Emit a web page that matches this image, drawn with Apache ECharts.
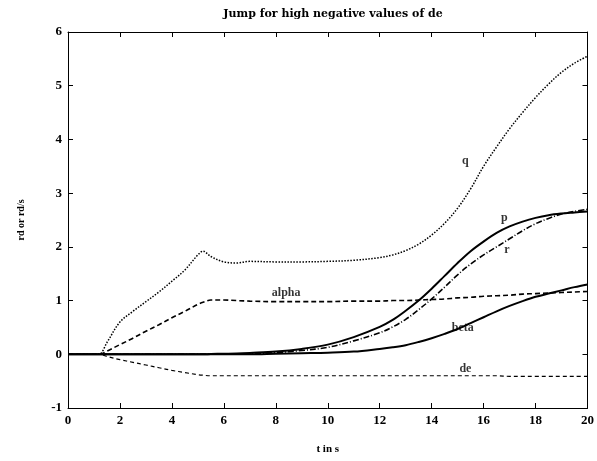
<!DOCTYPE html>
<html>
<head>
<meta charset="utf-8">
<script src="https://cdn.jsdelivr.net/npm/echarts@6/dist/echarts.min.js"></script>
<style>html,body{margin:0;padding:0;background:#fff}#c{width:597px;height:461px}</style>
</head>
<body>
<div id="c"></div>
<script>
const t     = [0, 1, 1.2, 1.5, 2, 2.5, 3, 3.5, 4, 4.5, 5, 5.2, 5.5, 6, 6.5, 7, 8, 9, 10, 11, 12, 12.5, 13, 13.5, 14, 14.5, 15, 15.5, 16, 16.5, 17, 17.5, 18, 18.5, 19, 19.5, 20];
const q     = [0, 0, 0, 0.22, 0.6, 0.8, 0.98, 1.16, 1.36, 1.57, 1.85, 1.92, 1.82, 1.72, 1.7, 1.73, 1.72, 1.72, 1.73, 1.75, 1.8, 1.85, 1.93, 2.05, 2.22, 2.44, 2.72, 3.08, 3.5, 3.86, 4.2, 4.5, 4.78, 5.03, 5.25, 5.42, 5.55];
const alpha = [0, 0, 0, 0.06, 0.18, 0.3, 0.43, 0.55, 0.68, 0.8, 0.93, 0.97, 1.01, 1.01, 1.0, 0.99, 0.98, 0.98, 0.98, 0.99, 0.99, 1.0, 1.0, 1.01, 1.02, 1.03, 1.05, 1.06, 1.08, 1.09, 1.1, 1.12, 1.13, 1.14, 1.15, 1.16, 1.17];
const de    = [0, 0, 0, -0.04, -0.1, -0.15, -0.2, -0.25, -0.3, -0.34, -0.38, -0.39, -0.4, -0.4, -0.4, -0.4, -0.4, -0.4, -0.4, -0.4, -0.4, -0.4, -0.4, -0.4, -0.4, -0.4, -0.4, -0.4, -0.4, -0.4, -0.41, -0.41, -0.41, -0.41, -0.41, -0.41, -0.41];
const p     = [0, 0, 0, 0, 0, 0, 0, 0, 0, 0, 0, 0, 0.005, 0.01, 0.015, 0.025, 0.05, 0.1, 0.18, 0.32, 0.51, 0.64, 0.81, 1.0, 1.22, 1.46, 1.7, 1.92, 2.1, 2.26, 2.38, 2.47, 2.54, 2.59, 2.62, 2.64, 2.66];
const r     = [0, 0, 0, 0, 0, 0, 0, 0, 0, 0, 0, 0, 0, 0, 0.005, 0.01, 0.03, 0.07, 0.13, 0.25, 0.4, 0.51, 0.65, 0.83, 1.03, 1.25, 1.48, 1.68, 1.85, 2.0, 2.15, 2.3, 2.43, 2.53, 2.61, 2.66, 2.7];
const beta  = [0, 0, 0, 0, 0, 0, 0, 0, 0, 0, 0, 0, 0, 0, 0, 0, 0.01, 0.02, 0.03, 0.05, 0.1, 0.13, 0.17, 0.23, 0.3, 0.38, 0.47, 0.58, 0.69, 0.8, 0.9, 0.99, 1.07, 1.13, 1.19, 1.25, 1.3];
const curveLabels = [[15.3, 3.6, 'q'], [16.8, 2.53, 'p'], [16.9, 1.95, 'r'], [8.4, 1.14, 'alpha'], [15.2, 0.5, 'beta'], [15.3, -0.28, 'de']];
const xTicks = {min: 0, max: 20, interval: 2};
const yTicks = {min: -1, max: 6, interval: 1};

const pairs = v => t.map((x, i) => [x, v[i]]);
const font = 'Liberation Serif';
const line = (name, v, type, width) => ({
  name, type: 'line', data: pairs(v), smooth: 0.35, showSymbol: false, symbol: 'none',
  lineStyle: {color: '#000', width, type}, z: 3
});
const axisCommon = {
  axisLine: {show: true, onZero: false, lineStyle: {color: '#000', width: 1}},
  axisTick: {show: true, inside: true, length: 5, lineStyle: {color: '#000'}},
  splitLine: {show: false}
};
const chart = echarts.init(document.getElementById('c'));
chart.setOption({
  animation: false,
  backgroundColor: '#fff',
  title: {text: 'Jump for high negative values of de', left: 328, top: 4, textAlign: 'center',
    textStyle: {fontFamily: 'DejaVu Serif', fontWeight: 'bold', fontSize: 11, color: '#000'}},
  grid: {left: 68, right: 9, top: 32, bottom: 53},
  xAxis: [
    Object.assign({type: 'value', position: 'bottom', min: xTicks.min, max: xTicks.max, interval: xTicks.interval,
      name: 't in s', nameLocation: 'middle', nameGap: 36,
      nameTextStyle: {fontFamily: font, fontWeight: 'bold', fontSize: 11, color: '#000'},
      axisLabel: {fontFamily: font, fontWeight: 'bold', fontSize: 13, color: '#000', margin: 6}}, axisCommon),
    Object.assign({type: 'value', position: 'top', min: xTicks.min, max: xTicks.max, interval: xTicks.interval,
      axisLabel: {show: false}}, axisCommon)
  ],
  yAxis: [
    Object.assign({type: 'value', position: 'left', min: yTicks.min, max: yTicks.max, interval: yTicks.interval,
      name: 'rd or rd/s', nameLocation: 'middle', nameGap: 42,
      nameTextStyle: {fontFamily: font, fontWeight: 'bold', fontSize: 10, color: '#000'},
      axisLabel: {fontFamily: font, fontWeight: 'bold', fontSize: 13, color: '#000', margin: 6}}, axisCommon),
    Object.assign({type: 'value', position: 'right', min: yTicks.min, max: yTicks.max, interval: yTicks.interval,
      axisLabel: {show: false}}, axisCommon)
  ],
  series: [
    line('q', q, 'dotted', 1.5),
    line('alpha', alpha, [5, 3], 1.6),
    line('de', de, [4, 3], 1.2),
    line('p', p, 'solid', 2),
    line('r', r, [6, 2, 1, 2], 1.6),
    line('beta', beta, 'solid', 2),
    {type: 'scatter', symbolSize: 0, data: curveLabels.map(d => ({value: [d[0], d[1]], name: d[2]})),
      label: {show: true, position: 'inside', formatter: pp => pp.name,
        fontFamily: font, fontWeight: 'bold', fontSize: 12, color: '#000'}, z: 5}
  ]
});
</script>
</body>
</html>
